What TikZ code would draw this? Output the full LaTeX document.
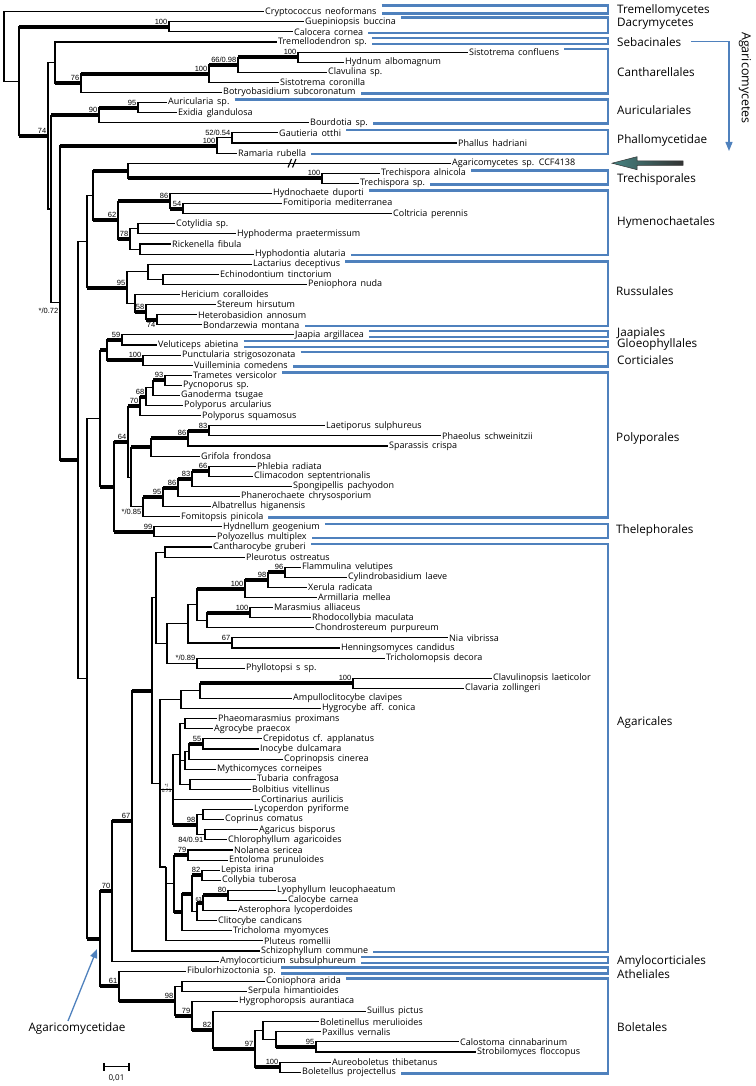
\documentclass[tikz,border=0pt]{standalone}
\usepackage{fontspec}
\setmainfont{Open Sans}
\newfontfamily\numf{Liberation Sans}
\usetikzlibrary{calc,arrows.meta}
\definecolor{boxblue}{RGB}{79,129,189}
\definecolor{arrteal}{RGB}{70,132,130}
\tikzset{
  br/.style={line width=1.1pt, line join=miter},
  thk/.style={line width=4pt},
  taxon/.style={anchor=west, inner xsep=1pt, inner ysep=0pt, font={\fontsize{9}{10}\selectfont\spaceskip=0.42em\relax}},
  bsl/.style={inner sep=0pt, font={\numf\fontsize{7.5}{8}\selectfont}},
  grplab/.style={anchor=west, inner sep=0pt, font={\fontsize{11.7}{13}\selectfont}},
  bluebox/.style={draw=boxblue, line width=2.6pt, line join=miter},
  bluearr/.style={draw=boxblue, line width=1.3pt, -{Triangle[length=9pt,width=7pt]}},
}
\newcommand\leaf[3]{\coordinate (l#1) at (#2,{11.7+(#1-1)*10.1}); \node[taxon] (t#1) at (l#1) {#3};}
\newcommand\mkn[4]{\path let \p1=(#3), \p2=(#4) in coordinate (#1) at (#2pt,{(\y1+\y2)/2});}
\newcommand\kids[2]{\foreach \kk in {#2}{\draw[br] (#1) |- (\kk);}}
\newcommand\thk[2]{\draw[thk] (#1 |- #2) -- (#2);}
\newcommand\bs[2]{\node[bsl,anchor=south east] at ([xshift=-1.5pt,yshift=2.2pt]#1) {#2};}
\newcommand\bsb[2]{\node[bsl,anchor=north east] at ([xshift=-1.5pt,yshift=-2.4pt]#1) {#2};}
\newcommand\grp[4]{\draw[bluebox] let \p1=(t#1.east), \p2=(t#2.east) in (\x1+4pt,\y1+#3pt) -- (608pt,\y1+#3pt) -- (608pt,\y2-#4pt) -- (\x2+4pt,\y2-#4pt);}
\begin{document}
\begin{tikzpicture}[x=1pt,y=-1pt]
\useasboundingbox (0,0) rectangle (755,1086);
% ---------------- leaves
\leaf{1}{264}{Cryptococcus neoformans}
\leaf{2}{304}{Guepiniopsis buccina}
\leaf{3}{293}{Calocera cornea}
\leaf{4}{277}{Tremellodendron sp.}
\leaf{5}{468}{Sistotrema confluens}
\leaf{6}{344}{Hydnum albomagnum}
\leaf{7}{327}{Clavulina sp.}
\leaf{8}{279}{Sistotrema coronilla}
\leaf{9}{222}{Botryobasidium subcoronatum}
\leaf{10}{167}{Auricularia sp.}
\leaf{11}{177}{Exidia glandulosa}
\leaf{12}{309}{Bourdotia sp.}
\leaf{13}{278}{Gautieria otthi}
\leaf{14}{457}{Phallus hadriani}
\leaf{15}{237}{Ramaria rubella}
\leaf{16}{451}{Agaricomycetes sp. CCF4138}
\leaf{17}{380}{Trechispora alnicola}
\leaf{18}{359}{Trechispora sp.}
\leaf{19}{272}{Hydnochaete duporti}
\leaf{20}{282}{Fomitiporia mediterranea}
\leaf{21}{392}{Coltricia perennis}
\leaf{22}{175}{Cotylidia sp.}
\leaf{23}{236}{Hyphoderma praetermissum}
\leaf{24}{171}{Rickenella fibula}
\leaf{25}{254}{Hyphodontia alutaria}
\leaf{26}{252}{Lactarius deceptivus}
\leaf{27}{219}{Echinodontium tinctorium}
\leaf{28}{307}{Peniophora nuda}
\leaf{29}{180}{Hericium coralloides}
\leaf{30}{216}{Stereum hirsutum}
\leaf{31}{197}{Heterobasidion annosum}
\leaf{32}{202}{Bondarzewia montana}
\leaf{33}{294}{Jaapia argillacea}
\leaf{34}{157}{Veluticeps abietina}
\leaf{35}{181}{Punctularia strigosozonata}
\leaf{36}{193}{Vuilleminia comedens}
\leaf{37}{192}{Trametes versicolor}
\leaf{38}{182}{Pycnoporus sp.}
\leaf{39}{180}{Ganoderma tsugae}
\leaf{40}{183}{Polyporus arcularius}
\leaf{41}{201}{Polyporus squamosus}
\leaf{42}{325}{Laetiporus sulphureus}
\leaf{43}{441}{Phaeolus schweinitzii}
\leaf{44}{388}{Sparassis crispa}
\leaf{45}{200}{Grifola frondosa}
\leaf{46}{256}{Phlebia radiata}
\leaf{47}{253}{Climacodon septentrionalis}
\leaf{48}{292}{Spongipellis pachyodon}
\leaf{49}{240}{Phanerochaete chrysosporium}
\leaf{50}{211}{Albatrellus higanensis}
\leaf{51}{180}{Fomitopsis pinicola}
\leaf{52}{222}{Hydnellum geogenium}
\leaf{53}{216}{Polyozellus multiplex}
\leaf{54}{212}{Cantharocybe gruberi}
\leaf{55}{245}{Pleurotus ostreatus}
\leaf{56}{301}{Flammulina velutipes}
\leaf{57}{347}{Cylindrobasidium laeve}
\leaf{58}{307}{Xerula radicata}
\leaf{59}{317}{Armillaria mellea}
\leaf{60}{273}{Marasmius alliaceus}
\leaf{61}{311}{Rhodocollybia maculata}
\leaf{62}{314}{Chondrostereum purpureum}
\leaf{63}{448}{Nia vibrissa}
\leaf{64}{340}{Henningsomyces candidus}
\leaf{65}{385}{Tricholomopsis decora}
\leaf{66}{245}{Phyllotopsi s sp.}
\leaf{67}{492}{Clavulinopsis laeticolor}
\leaf{68}{464}{Clavaria zollingeri}
\leaf{69}{292}{Ampulloclitocybe clavipes}
\leaf{70}{321}{Hygrocybe aff. conica}
\leaf{71}{217}{Phaeomarasmius proximans}
\leaf{72}{213}{Agrocybe praecox}
\leaf{73}{262}{Crepidotus cf. applanatus}
\leaf{74}{259}{Inocybe dulcamara}
\leaf{75}{283}{Coprinopsis cinerea}
\leaf{76}{216}{Mythicomyces corneipes}
\leaf{77}{256}{Tubaria confragosa}
\leaf{78}{251}{Bolbitius vitellinus}
\leaf{79}{260}{Cortinarius aurilicis}
\leaf{80}{253}{Lycoperdon pyriforme}
\leaf{81}{224}{Coprinus comatus}
\leaf{82}{258}{Agaricus bisporus}
\leaf{83}{227}{Chlorophyllum agaricoides}
\leaf{84}{233}{Nolanea sericea}
\leaf{85}{228}{Entoloma prunuloides}
\leaf{86}{220}{Lepista irina}
\leaf{87}{221}{Collybia tuberosa}
\leaf{88}{276}{Lyophyllum leucophaeatum}
\leaf{89}{287}{Calocybe carnea}
\leaf{90}{237}{Asterophora lycoperdoides}
\leaf{91}{217}{Clitocybe candicans}
\leaf{92}{232}{Tricholoma myomyces}
\leaf{93}{263}{Pluteus romellii}
\leaf{94}{260}{Schizophyllum commune}
\leaf{95}{219}{Amylocorticium subsulphureum}
\leaf{96}{186}{Fibulorhizoctonia sp.}
\leaf{97}{265}{Coniophora arida}
\leaf{98}{247}{Serpula himantioides}
\leaf{99}{238}{Hygrophoropsis aurantiaca}
\leaf{100}{366}{Suillus pictus}
\leaf{101}{319}{Boletinellus merulioides}
\leaf{102}{321}{Paxillus vernalis}
\leaf{103}{459}{Calostoma cinnabarinum}
\leaf{104}{476}{Strobilomyces floccopus}
\leaf{105}{331}{Aureoboletus thibetanus}
\leaf{106}{301}{Boletellus projectellus}
% ---------------- internal nodes
\mkn{dac}{169}{l2}{l3}
\mkn{c100b}{298}{l5}{l6}
\mkn{c66}{238}{c100b}{l7}
\mkn{c100}{209}{c66}{l8}
\mkn{c76}{81}{c100}{l9}
\mkn{sebcan}{55}{l4}{c76}
\mkn{a95}{138}{l10}{l11}
\mkn{a90}{99}{a95}{l12}
\mkn{p52}{232}{l13}{l14}
\mkn{p100}{217}{p52}{l15}
\mkn{t100}{322}{l17}{l18}
\mkn{trech}{128}{l16}{t100}
\mkn{h54}{183}{l20}{l21}
\mkn{h86}{170}{l19}{h54}
\mkn{ha}{138}{l22}{l23}
\mkn{hb}{140}{l24}{l25}
\mkn{h78}{130}{ha}{hb}
\mkn{h62}{118}{h86}{h78}
\mkn{th}{93}{trech}{h62}
\mkn{r1b}{163}{l27}{l28}
\mkn{r1}{148}{l26}{r1b}
\mkn{r74}{157}{l31}{l32}
\mkn{r58}{146}{l30}{r74}
\mkn{r2}{135}{l29}{r58}
\mkn{r95}{127}{r1}{r2}
\mkn{nthr}{87}{th}{r95}
\mkn{j59}{122}{l33}{l34}
\mkn{c100c}{143}{l35}{l36}
\mkn{jgc}{107}{j59}{c100c}
\mkn{p93}{165}{l37}{l38}
\mkn{p153}{153}{p93}{l39}
\mkn{p68}{146}{p153}{l40}
\mkn{p70}{140}{p68}{l41}
\mkn{pp83a}{209}{l42}{l43}
\mkn{pp86a}{188}{pp83a}{l44}
\mkn{pp151}{151}{pp86a}{l45}
\mkn{pp66}{209}{l46}{l47}
\mkn{pp83b}{192}{pp66}{l48}
\mkn{pp86b}{178}{pp83b}{l49}
\mkn{pp95}{163}{pp86b}{l50}
\mkn{pp143}{143}{pp95}{l51}
\mkn{pp131}{131}{pp151}{pp143}
\mkn{p64}{128}{p70}{pp131}
\mkn{th99}{154}{l52}{l53}
\mkn{n114}{114}{p64}{th99}
\mkn{n100}{100}{jgc}{n114}
\mkn{ag165}{165}{l54}{l55}
\mkn{ag96}{285}{l56}{l57}
\mkn{ag98}{268}{ag96}{l58}
\mkn{ag100a}{245}{ag98}{l59}
\mkn{ag250}{250}{l60}{l61}
\mkn{ag207}{207}{ag250}{l62}
\mkn{ag197}{197}{ag100a}{ag207}
\mkn{ag67}{232}{l63}{l64}
\mkn{ag188}{188}{ag197}{ag67}
\mkn{ag089}{197}{l65}{l66}
\mkn{ag167}{167}{ag188}{ag089}
\mkn{agu}{156}{ag165}{ag167}
\mkn{hy100}{353}{l67}{l68}
\mkn{hy200}{200}{hy100}{l69}
\mkn{hy181}{181}{hy200}{l70}
\mkn{ac185}{185}{l71}{l72}
\mkn{ac55}{203}{l73}{l74}
\mkn{ac189}{189}{ac55}{l75}
\mkn{ac185b}{185}{ac189}{l76}
\mkn{ac190}{190}{l77}{l78}
\mkn{ac180}{180}{ac185}{ac190}
\mkn{ac203}{203}{l80}{l81}
\mkn{ac205}{205}{l82}{l83}
\mkn{ac98}{197}{ac203}{ac205}
\mkn{ac173}{173}{ac180}{ac98}
\mkn{ac79}{188}{l84}{l85}
\mkn{ac82}{202}{l86}{l87}
\mkn{ac80}{228}{l88}{l89}
\mkn{ac63}{203}{ac80}{l90}
\mkn{ac197c}{197}{ac63}{l91}
\mkn{ac192}{192}{ac82}{ac197c}
\mkn{ac182}{182}{ac192}{l92}
\mkn{ac174}{174}{ac79}{ac182}
\coordinate (ac166) at (166,867);
\mkn{ac160}{160}{hy181}{ac166}
\mkn{agc}{152}{agu}{ac160}
\mkn{n67}{132}{agc}{l94}
\mkn{n70}{112}{n67}{l95}
\mkn{b182}{182}{l97}{l98}
\mkn{bol100}{280}{l105}{l106}
\mkn{b95}{316}{l103}{l104}
\mkn{b276}{276}{l102}{b95}
\mkn{b263}{263}{l101}{b276}
\mkn{b97}{255}{b263}{bol100}
\mkn{b82}{213}{l100}{b97}
\mkn{b79}{192}{l99}{b82}
\mkn{b98}{175}{b182}{b79}
\mkn{b61}{119}{l96}{b98}
\mkn{agd}{100}{n70}{b61}
\mkn{nb}{87}{n100}{agd}
\mkn{n3}{78}{nthr}{nb}
\mkn{n2}{60}{p100}{n3}
\mkn{n1}{51}{a90}{n2}
\mkn{aga}{48}{sebcan}{n1}
\mkn{da}{19}{dac}{aga}
\mkn{root}{4}{l1}{da}
% ---------------- branches
\kids{root}{l1,da}
\kids{da}{dac,aga}
\kids{dac}{l2,l3}
\kids{aga}{sebcan,n1}
\kids{sebcan}{l4,c76}
\kids{c76}{c100,l9}
\kids{c100}{c66,l8}
\kids{c66}{c100b,l7}
\kids{c100b}{l5,l6}
\kids{n1}{a90,n2}
\kids{a90}{a95,l12}
\kids{a95}{l10,l11}
\kids{n2}{p100,n3}
\kids{p100}{p52,l15}
\kids{p52}{l13,l14}
\kids{n3}{nthr,nb}
\kids{nthr}{th,r95}
\kids{th}{trech,h62}
\kids{trech}{l16,t100}
\kids{t100}{l17,l18}
\kids{h62}{h86,h78}
\kids{h86}{l19,h54}
\kids{h54}{l20,l21}
\kids{h78}{ha,hb}
\kids{ha}{l22,l23}
\kids{hb}{l24,l25}
\kids{r95}{r1,r2}
\kids{r1}{l26,r1b}
\kids{r1b}{l27,l28}
\kids{r2}{l29,r58}
\kids{r58}{l30,r74}
\kids{r74}{l31,l32}
\kids{nb}{n100,agd}
\kids{n100}{jgc,n114}
\kids{jgc}{j59,c100c}
\kids{j59}{l33,l34}
\kids{c100c}{l35,l36}
\kids{n114}{p64,th99}
\kids{p64}{p70,pp131}
\kids{p70}{p68,l41}
\kids{p68}{p153,l40}
\kids{p153}{p93,l39}
\kids{p93}{l37,l38}
\kids{pp131}{pp151,pp143}
\kids{pp151}{pp86a,l45}
\kids{pp86a}{pp83a,l44}
\kids{pp83a}{l42,l43}
\kids{pp143}{pp95,l51}
\kids{pp95}{pp86b,l50}
\kids{pp86b}{pp83b,l49}
\kids{pp83b}{pp66,l48}
\kids{pp66}{l46,l47}
\kids{th99}{l52,l53}
\kids{agd}{n70,b61}
\kids{n70}{n67,l95}
\kids{n67}{agc,l94}
\kids{agc}{agu,ac160}
\kids{agu}{ag165,ag167}
\kids{ag165}{l54,l55}
\kids{ag167}{ag188,ag089}
\kids{ag188}{ag197,ag67}
\kids{ag197}{ag100a,ag207}
\kids{ag100a}{ag98,l59}
\kids{ag98}{ag96,l58}
\kids{ag96}{l56,l57}
\kids{ag207}{ag250,l62}
\kids{ag250}{l60,l61}
\kids{ag67}{l63,l64}
\kids{ag089}{l65,l66}
\kids{ac160}{hy181,ac173,ac166}
\kids{hy181}{hy200,l70}
\kids{hy200}{hy100,l69}
\kids{hy100}{l67,l68}
\kids{ac173}{ac180,l79,ac98}
\kids{ac180}{ac185,ac185b,ac190}
\kids{ac185}{l71,l72}
\kids{ac185b}{ac189,l76}
\kids{ac189}{ac55,l75}
\kids{ac55}{l73,l74}
\kids{ac190}{l77,l78}
\kids{ac98}{ac203,ac205}
\kids{ac203}{l80,l81}
\kids{ac205}{l82,l83}
\kids{ac166}{ac174,l93}
\kids{ac174}{ac79,ac182}
\kids{ac79}{l84,l85}
\kids{ac182}{ac192,l92}
\kids{ac192}{ac82,ac197c}
\kids{ac82}{l86,l87}
\kids{ac197c}{ac63,l91}
\kids{ac63}{ac80,l90}
\kids{ac80}{l88,l89}
\kids{b61}{l96,b98}
\kids{b98}{b182,b79}
\kids{b182}{l97,l98}
\kids{b79}{l99,b82}
\kids{b82}{l100,b97}
\kids{b97}{b263,bol100}
\kids{b263}{l101,b276}
\kids{b276}{l102,b95}
\kids{b95}{l103,l104}
\kids{bol100}{l105,l106}
% ---------------- thick (supported) branches
\thk{da}{dac} \thk{da}{aga} \thk{sebcan}{c76} \thk{c76}{c100} \thk{c100}{c66} \thk{c66}{c100b}
\thk{n1}{a90} \thk{a90}{a95} \thk{n2}{p100} \thk{n2}{n3}
\thk{th}{trech} \thk{trech}{t100} \thk{th}{h62} \thk{h62}{h86} \thk{h86}{h54} \thk{h62}{h78}
\thk{nthr}{r95} \thk{r2}{r58} \thk{r58}{r74}
\thk{n100}{jgc} \thk{jgc}{j59} \thk{jgc}{c100c} \thk{n100}{n114} \thk{n114}{p64} \thk{n114}{th99}
\thk{p64}{p70} \thk{p70}{p68} \thk{p153}{p93}
\thk{pp131}{pp151} \thk{pp151}{pp86a} \thk{pp86a}{pp83a}
\thk{pp143}{pp95} \thk{pp95}{pp86b} \thk{pp86b}{pp83b} \thk{pp83b}{pp66}
\thk{nb}{agd} \thk{agd}{n70} \thk{agd}{b61} \thk{n70}{n67} \thk{n67}{agc}
\thk{ag197}{ag100a} \thk{ag100a}{ag98} \thk{ag98}{ag96} \thk{ag207}{ag250}
\thk{hy200}{hy100} \thk{ac189}{ac55} \thk{ac173}{ac98}
\thk{ac174}{ac79} \thk{ac174}{ac182} \thk{ac182}{ac192} \thk{ac192}{ac82} \thk{ac197c}{ac63} \thk{ac63}{ac80}
\thk{b61}{b98} \thk{b98}{b79} \thk{b79}{b82} \thk{b82}{b97} \thk{b97}{bol100} \thk{b276}{b95}
% broken branch mark
\draw[br] (288,167.5) -- (291.5,159);
\draw[br] (292.5,167.5) -- (296,159);
% ---------------- support values
\bs{dac}{100} \bs{aga}{74} \bs{c100b}{100} \bs{c66}{66/0.98} \bs{c100}{100} \bs{c76}{76}
\bs{a95}{95} \bs{a90}{90} \bs{p52}{52/0.54} \bs{p100}{100} \bs{t100}{100}
\bs{h86}{86} \bs{h54}{54} \bs{h78}{78} \bs{h62}{62} \bs{r95}{95} \bs{r58}{58} \bsb{r74}{74}
\bs{j59}{59} \bs{c100c}{100} \bs{p93}{93} \bs{p68}{68} \bs{p70}{70} \bs{p64}{64}
\bs{pp83a}{83} \bs{pp86a}{86} \bs{pp66}{66} \bs{pp83b}{83} \bs{pp86b}{86} \bs{pp95}{95}
\bsb{pp143}{*/0.85} \bs{th99}{99}
\bs{ag96}{96} \bs{ag98}{98} \bs{ag100a}{100} \bs{ag250}{100} \bs{ag67}{67} \bs{ag089}{*/0.89}
\bs{hy100}{100} \bs{ac55}{55} \bs{ac98}{98} \bsb{ac205}{84/0.91} \bs{ac79}{79} \bs{ac82}{82} \bs{ac80}{80}
\node[inner sep=0pt, font={\numf\fontsize{5.5}{6}\selectfont}, anchor=south east] at ([xshift=-1pt,yshift=1.5pt]ac63) {63};
\bs{n67}{67} \bs{n70}{70} \bs{b61}{61} \bs{b98}{98} \bs{b79}{79} \bs{b82}{82} \bs{b97}{97} \bs{b95}{95} \bs{bol100}{100}
\node[bsl, anchor=north east] at ([xshift=-1.5pt,yshift=-5pt]n2) {*/0.72};
\node[inner sep=0pt, align=center, font={\numf\fontsize{4.8}{5}\selectfont}] at ([xshift=-6.5pt,yshift=1pt]ac173) {*/\\0.73};
% ---------------- group boxes
\grp{1}{1}{6}{2} \grp{2}{3}{4}{1} \grp{4}{4}{4}{2} \grp{5}{9}{3}{1} \grp{10}{12}{3}{1}
\grp{13}{15}{3}{1} \grp{17}{18}{3}{1} \grp{19}{25}{3}{1} \grp{26}{32}{3}{1}
\grp{33}{33}{4}{2} \grp{34}{34}{4}{2} \grp{35}{36}{3}{1} \grp{37}{51}{3}{1} \grp{52}{53}{3}{1}
\grp{54}{94}{3}{1} \grp{95}{95}{4}{2} \grp{96}{96}{4}{2} \grp{97}{106}{3}{1}
% ---------------- group labels
\node[grplab] (g1) at (617,10) {Tremellomycetes};
\node[grplab] (g2) at (617,24) {Dacrymycetes};
\node[grplab] (gseb) at (617,41.7) {Sebacinales};
\node[grplab] (g4) at (617,71.7) {Cantharellales};
\node[grplab] (g5) at (617,110) {Auriculariales};
\node[grplab] (g6) at (617,140) {Phallomycetidae};
\node[grplab] (g7) at (617,179) {Trechisporales};
\node[grplab] (g8) at (617,222.7) {Hymenochaetales};
\node[grplab] (g9) at (616,291) {Russulales};
\node[grplab] (g10) at (617,333.3) {Jaapiales};
\node[grplab] (g11) at (617,344.5) {Gloeophyllales};
\node[grplab] (g12) at (617,360) {Corticiales};
\node[grplab] (g13) at (616,438.3) {Polyporales};
\node[grplab] (g14) at (616,530.7) {Thelephorales};
\node[grplab] (g15) at (617,722) {Agaricales};
\node[grplab] (g16) at (617,961.7) {Amylocorticiales};
\node[grplab] (g17) at (617,974) {Atheliales};
\node[grplab] (g18) at (617,1026.7) {Boletales};
\node[font={\fontsize{12.5}{14}\selectfont}, rotate=-90, inner sep=0pt] (gaga) at (745,78) {Agaricomycetes};
\coordinate (agbend) at (729,41.7);
\coordinate (agtip) at (729,151);
\draw[bluearr] ([xshift=10pt]gseb.east) -- (agbend) -- (agtip);
% arrow to CCF4138
\coordinate (ccftip) at (612,163.2);
\shade[left color=arrteal, right color=black!80, draw=black!80, line width=0.5pt]
  (ccftip) -- ++(25,-6.5) -- ++(0,4.2) -- ++(46,0) -- ++(0,4.6) -- ++(-46,0) -- ++(0,4.2) -- cycle;
% Agaricomycetidae
\node[font={\fontsize{11.7}{13}\selectfont}, inner sep=0pt] (agdlab) at (77,1028) {Agaricomycetidae};
\coordinate (agdtip) at (97,949);
\draw[bluearr] ([xshift=-9pt,yshift=1pt]agdlab.north) -- (agdtip);
% scale bar
\coordinate (sb1) at (104,1066.7);
\coordinate (sb2) at (129,1066.7);
\draw[br] (sb1) -- (sb2);
\draw[br] ([yshift=3.8pt]sb1) -- ([yshift=-3.8pt]sb1);
\draw[br] ([yshift=3.8pt]sb2) -- ([yshift=-3.8pt]sb2);
\node[inner sep=0pt, font={\fontsize{8}{9}\selectfont}] (sbl) at (116.5,1078.5) {0,01};
\end{tikzpicture}
\end{document}
